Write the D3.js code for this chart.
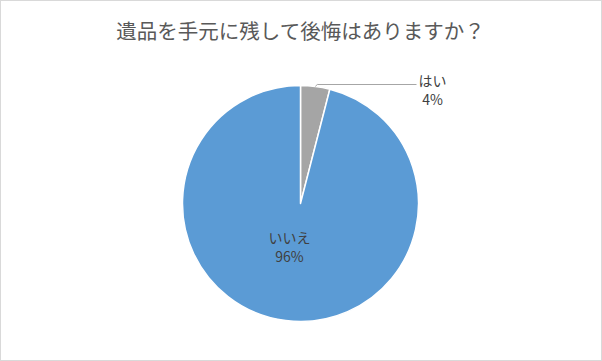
<!DOCTYPE html>
<html>
<head>
<meta charset="utf-8">
<script src="https://cdn.jsdelivr.net/npm/d3@7"></script>
<style>
  body { margin: 0; background: #fff; }
  svg { display: block; }
</style>
</head>
<body>
<div id="chart"></div>
<script>
// chart data
var title = "遺品を手元に残して後悔はありますか？";
var categories = ["はい", "いいえ"];
var values = [4, 96];
var colors = ["#a5a5a5", "#5b9bd5"];

var W = 602, H = 361;
var cx = 300.5, cy = 203.5, radius = 118;

var svg = d3.select("#chart").append("svg")
    .attr("width", W)
    .attr("height", H);

// outer frame
svg.append("rect")
    .attr("x", 0.5).attr("y", 0.5)
    .attr("width", W - 1).attr("height", H - 1)
    .attr("fill", "#fff")
    .attr("stroke", "#d9d9d9");

svg.append("text")
    .attr("x", cx)
    .attr("y", 39)
    .attr("text-anchor", "middle")
    .style("font-family", "'Noto Sans CJK JP', sans-serif")
    .style("font-size", "20.5px")
    .style("fill", "#595959")
    .text(title);

var data = categories.map(function (c, i) { return {name: c, value: values[i], color: colors[i]}; });

var pie = d3.pie()
    .sort(null)
    .value(function (d) { return d.value; });

var arc = d3.arc()
    .innerRadius(0)
    .outerRadius(radius);

var g = svg.append("g")
    .attr("transform", "translate(" + cx + "," + cy + ")");

var arcs = pie(data);

g.selectAll("path")
    .data(arcs)
    .enter()
    .append("path")
      .attr("d", arc)
      .attr("fill", function (d) { return d.data.color; })
      .attr("stroke", "#fff")
      .attr("stroke-width", 1.5)
      .attr("stroke-linejoin", "round");

var pct = d3.format(".0%");
var total = d3.sum(values);

// small slice: label outside with leader line
var small = arcs[0];
var edge = d3.arc().innerRadius(radius).outerRadius(radius).centroid(small);
var lx = edge[0], ly = edge[1];
var labelX = 132, labelY = -119;

g.append("polyline")
    .attr("points", [[lx, ly], [lx + 2, labelY], [labelX - 16, labelY]].map(function (p) { return p.join(","); }).join(" "))
    .attr("fill", "none")
    .attr("stroke", "#a6a6a6")
    .attr("stroke-width", 1);

function addLabel(x, y, d) {
  var t = g.append("text")
      .attr("text-anchor", "middle")
      .style("font-family", "'Noto Sans CJK JP', sans-serif")
      .style("font-size", "14px")
      .style("fill", "#404040");
  t.append("tspan").attr("x", x).attr("y", y).text(d.data.name);
  t.append("tspan").attr("x", x).attr("y", y + 19).text(pct(d.data.value / total));
}

addLabel(labelX, labelY + 1, small);

// large slice: label inside
var big = arcs[1];
var c = d3.arc().innerRadius(0).outerRadius(radius * 0.42).centroid(big);
addLabel(c[0] - 8, c[1] + 15, big);
</script>
</body>
</html>
